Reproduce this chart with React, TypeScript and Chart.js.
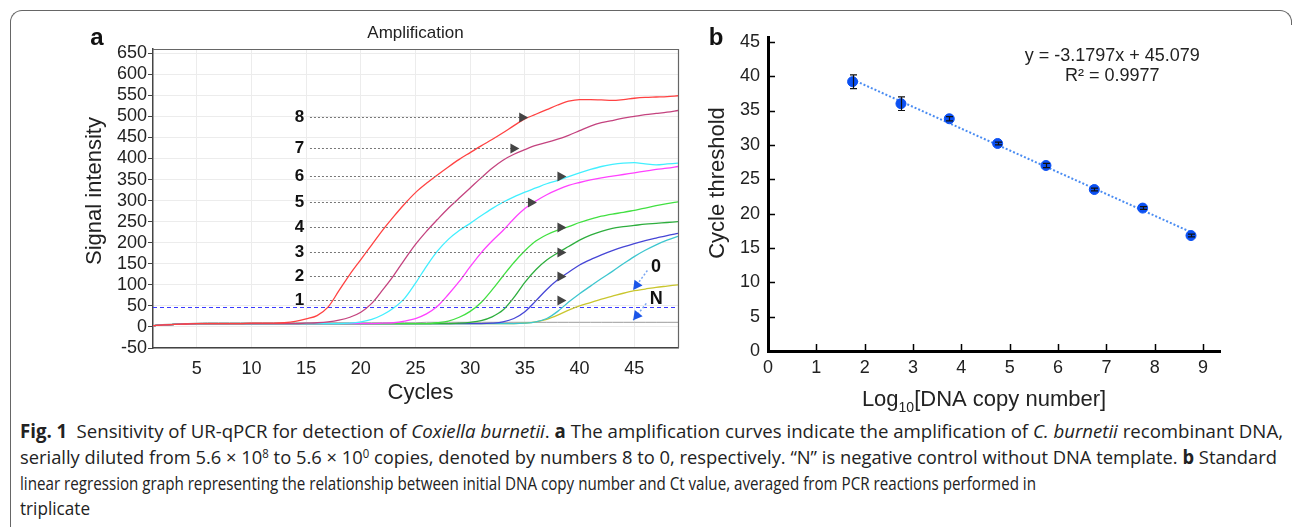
import React, { useEffect, useLayoutEffect, useRef } from "react";
import { Chart, registerables } from "chart.js";
Chart.register(...registerables);

const FONT = "'Liberation Sans', Arial, Helvetica, sans-serif";

// ---------- Panel a: amplification curves ----------
const cycles = [1,2,3,4,5,6,7,8,9,10,11,12,13,14,15,16,17,18,19,20,21,22,23,24,25,26,27,28,29,30,31,32,33,34,35,36,37,38,39,40,41,42,43,44,45,46,47,48,49];
const curve8 = [3,5,6,7,8, 8,8,8,8,9, 9,9,10,13,19, 27,47,86,125,160, 195,230,262,292,319, 341,361,380,398,414, 430,445,461,478,494, 505,516,527,536,540, 540,539,538,540,543, 545,546,547,549];
const curve7 = [3,5,6,7,8, 8,8,8,8,8, 8,8,8,8,9, 10,12,16,23,35, 56,88,122,160,196, 227,255,282,306,330, 354,377,396,410,421, 431,438,446,455,466, 477,485,490,496,500, 504,507,510,514];
const curve6 = [3,5,6,7,8, 8,8,8,8,8, 8,8,8,8,8, 8,8,8,9,12, 18,29,45,68,104, 144,180,208,229,246, 264,281,296,309,320, 330,340,348,357,366, 374,381,386,389,390, 387,385,387,389];
const curve5 = [3,5,6,7,8, 8,8,8,8,8, 8,8,8,8,8, 8,8,8,8,8, 8,9,10,14,20, 31,49,77,108,143, 176,204,229,257,281, 299,314,326,336,343, 349,354,358,362,366, 370,374,377,381];
const curve4 = [3,5,6,7,8, 8,8,8,8,8, 8,8,8,8,8, 8,8,8,8,8, 8,8,8,8,8, 8,10,14,23,37, 58,88,121,153,181, 204,219,230,238,248, 256,263,268,272,277, 282,288,293,297];
const curve3 = [3,5,6,7,8, 8,8,8,8,8, 8,8,8,8,8, 8,8,8,8,8, 8,8,8,8,8, 8,8,8,9,11, 15,24,40,70,106, 136,159,176,191,206, 218,227,234,238,241, 244,246,248,250];
const curve2 = [3,5,6,7,8, 8,8,8,8,8, 8,8,8,8,8, 8,8,8,8,8, 8,8,8,8,8, 8,8,8,8,8, 8,9,12,20,36, 62,89,112,130,147, 160,171,181,190,198, 205,211,217,222];
const curve1 = [3,5,6,7,8, 8,8,8,8,8, 8,8,8,8,8, 8,8,8,8,8, 8,8,8,8,8, 8,8,8,8,8, 8,8,8,8,9, 12,20,37,59,79, 97,115,132,150,167, 182,195,206,215];
const curve0 = [3,5,6,7,8, 8,8,8,8,8, 8,8,8,8,8, 8,8,8,8,8, 8,8,8,8,8, 8,8,8,8,8, 8,8,8,8,9, 12,18,28,40,50, 58,66,73,80,86, 90,94,97,100];
const curveN = [4,6,7,8,9, 10,10,10,10,10, 10,10,10,10,10, 10,10,10,10,10, 10,10,10,10,10, 11,11,11,11,11, 11,11,11,11,11, 11,11,11,11,11, 11,11,11,11,11, 11,11,11,11];

const seriesNames = ["8", "7", "6", "5", "4", "3", "2", "1", "0", "N"];
const seriesColors = ["#ff4242", "#c4437f", "#42efff", "#ff42ff", "#42e042", "#2eae3e", "#4646d6", "#3ec6cf", "#c9c62e", "#9b9b9b"];
const seriesValues = [curve8, curve7, curve6, curve5, curve4, curve3, curve2, curve1, curve0, curveN];

const xTicksA = [5, 10, 15, 20, 25, 30, 35, 40, 45];
const yTicksA = [-50, 0, 50, 100, 150, 200, 250, 300, 350, 400, 450, 500, 550, 600, 650];
const thresholdA = 47;

const pointerLabels = ["8", "7", "6", "5", "4", "3", "2", "1"];
const pointerLevels = [499, 425, 359, 297, 237, 178, 120, 64];
const pointerEnds = [35.3, 34.5, 38.8, 36.1, 38.8, 38.8, 38.8, 38.8];
const pointerLabelCycle = 14.4;
const pointerStartCycle = 15.35;

// "0" and "N" callouts
const calloutLabels = ["0", "N"];
const calloutText = [[47.0, 142], [47.0, 66]];
const calloutFrom = [[46.2, 134], [46.1, 56]];
const calloutTo = [[44.9, 88], [44.9, 16]];

// ---------- Panel b: standard curve ----------
const log10Copies = [1.75, 2.75, 3.75, 4.75, 5.75, 6.75, 7.75, 8.75];
const ctMeans = [39.2, 36.0, 33.8, 30.2, 27.0, 23.5, 20.8, 16.8];
const ctErrors = [1.0, 1.0, 0.3, 0.2, 0.3, 0.2, 0.2, 0.2];
const trendX = [1.75, 8.75];
const trendY = [39.5, 17.3];
const xTicksB = [0, 1, 2, 3, 4, 5, 6, 7, 8, 9];
const yTicksB = [0, 5, 10, 15, 20, 25, 30, 35, 40, 45];
const equationLines = ["y = -3.1797x + 45.079", "R\u00b2 = 0.9977"];

function drawRotated(ctx: CanvasRenderingContext2D, text: string, x: number, y: number) {
  ctx.save();
  ctx.translate(x, y);
  ctx.rotate(-Math.PI / 2);
  ctx.textAlign = "center";
  ctx.textBaseline = "middle";
  ctx.fillText(text, 0, 0);
  ctx.restore();
}

function drawHead(ctx: CanvasRenderingContext2D, fx: number, fy: number, tx: number, ty: number, len: number, half: number) {
  const a = Math.atan2(ty - fy, tx - fx);
  ctx.beginPath();
  ctx.moveTo(tx, ty);
  ctx.lineTo(tx - len * Math.cos(a) + half * Math.sin(a), ty - len * Math.sin(a) - half * Math.cos(a));
  ctx.lineTo(tx - len * Math.cos(a) - half * Math.sin(a), ty - len * Math.sin(a) + half * Math.cos(a));
  ctx.closePath();
  ctx.fill();
}

function PanelA() {
  const ref = useRef<HTMLCanvasElement>(null);
  useEffect(() => {
    if (!ref.current) return;
    const datasets = seriesValues.map((vals, si) => ({
      label: seriesNames[si],
      data: cycles.map((c, i) => ({ x: c, y: vals[i] })),
      borderColor: seriesColors[si],
      borderWidth: si === 9 ? 1 : 1.3,
      pointRadius: 0,
      cubicInterpolationMode: "monotone" as const,
      fill: false,
    }));
    const plugin = {
      id: "panelA",
      beforeDatasetsDraw(chart: any) {
        const { ctx, chartArea: ca, scales } = chart;
        const y = scales.y.getPixelForValue(thresholdA);
        ctx.save();
        ctx.strokeStyle = "#3a3aff";
        ctx.lineWidth = 1;
        ctx.setLineDash([4, 3]);
        ctx.beginPath();
        ctx.moveTo(ca.left, Math.round(y) + 0.5);
        ctx.lineTo(ca.right, Math.round(y) + 0.5);
        ctx.stroke();
        ctx.restore();
      },
      afterDraw(chart: any) {
        const { ctx, chartArea: ca, scales } = chart;
        const xs = scales.x, ys = scales.y;
        ctx.save();
        ctx.strokeStyle = "#666";
        ctx.lineWidth = 1.2;
        ctx.beginPath();
        ctx.moveTo(ca.left, ca.top + 0.5);
        ctx.lineTo(ca.right + 0.5, ca.top + 0.5);
        ctx.lineTo(ca.right + 0.5, ca.bottom);
        ctx.stroke();
        for (let i = 0; i < pointerLabels.length; i++) {
          const py = Math.round(ys.getPixelForValue(pointerLevels[i])) + 0.5;
          const sx = xs.getPixelForValue(pointerStartCycle);
          const ex = xs.getPixelForValue(pointerEnds[i]);
          ctx.strokeStyle = "#777";
          ctx.lineWidth = 1;
          ctx.setLineDash([2, 2]);
          ctx.beginPath();
          ctx.moveTo(sx, py);
          ctx.lineTo(ex - 8, py);
          ctx.stroke();
          ctx.setLineDash([]);
          ctx.fillStyle = "#444";
          ctx.beginPath();
          ctx.moveTo(ex, py);
          ctx.lineTo(ex - 9, py - 5);
          ctx.lineTo(ex - 9, py + 5);
          ctx.closePath();
          ctx.fill();
          ctx.fillStyle = "#111";
          ctx.font = `bold 17px ${FONT}`;
          ctx.textAlign = "center";
          ctx.textBaseline = "middle";
          ctx.fillText(pointerLabels[i], xs.getPixelForValue(pointerLabelCycle), py);
        }
        for (let i = 0; i < calloutLabels.length; i++) {
          const fx = xs.getPixelForValue(calloutFrom[i][0]);
          const fy = ys.getPixelForValue(calloutFrom[i][1]);
          const tx = xs.getPixelForValue(calloutTo[i][0]);
          const ty = ys.getPixelForValue(calloutTo[i][1]);
          ctx.strokeStyle = "#7aa6f2";
          ctx.lineWidth = 1.5;
          ctx.setLineDash([2, 2]);
          ctx.beginPath();
          ctx.moveTo(fx, fy);
          ctx.lineTo(tx, ty);
          ctx.stroke();
          ctx.setLineDash([]);
          ctx.fillStyle = "#1a55e8";
          drawHead(ctx, fx, fy, tx, ty, 9, 5);
          ctx.fillStyle = "#111";
          ctx.font = `bold 18px ${FONT}`;
          ctx.textAlign = "center";
          ctx.textBaseline = "middle";
          ctx.fillText(calloutLabels[i], xs.getPixelForValue(calloutText[i][0]), ys.getPixelForValue(calloutText[i][1]));
        }
        ctx.fillStyle = "#111";
        ctx.font = `bold 24px ${FONT}`;
        ctx.textAlign = "center";
        ctx.textBaseline = "middle";
        ctx.fillText("a", 37, 23);
        ctx.fillStyle = "#222";
        ctx.font = `17px ${FONT}`;
        ctx.fillText("Amplification", (ca.left + ca.right) / 2, ca.top - 16);
        ctx.font = `22px ${FONT}`;
        ctx.fillText("Cycles", (ca.left + ca.right) / 2 + 5, 378);
        drawRotated(ctx, "Signal intensity", 35, 176);
        ctx.restore();
      },
    };
    const chart = new Chart(ref.current, {
      type: "line",
      data: { datasets },
      options: {
        animation: false,
        responsive: false,
        events: [],
        layout: { padding: { top: 34, right: 22, left: 0, bottom: 0 } },
        plugins: { legend: { display: false }, tooltip: { enabled: false } },
        scales: {
          x: {
            type: "linear",
            min: 1,
            max: 49,
            afterBuildTicks: (s: any) => { s.ticks = xTicksA.map((v) => ({ value: v })); },
            afterFit: (s: any) => { s.height = 67; },
            grid: { color: "#ececec", drawTicks: false },
            border: { display: true, color: "#444", width: 1.5 },
            ticks: { font: { size: 18, family: FONT }, color: "#222", padding: 10, maxRotation: 0, autoSkip: false },
          },
          y: {
            type: "linear",
            min: -50,
            max: 660,
            afterBuildTicks: (s: any) => { s.ticks = yTicksA.map((v) => ({ value: v })); },
            afterFit: (s: any) => { s.width = 93; },
            grid: { color: "#ececec", drawTicks: true, tickLength: 5, tickColor: "#444" },
            border: { display: true, color: "#444", width: 1.5 },
            ticks: { font: { size: 18, family: FONT }, color: "#222", padding: 1, autoSkip: false },
          },
        },
      } as any,
      plugins: [plugin],
    });
    return () => chart.destroy();
  }, []);
  return <canvas ref={ref} width={640} height={400} style={{ position: "absolute", left: 60, top: 15 }} />;
}

function PanelB() {
  const ref = useRef<HTMLCanvasElement>(null);
  useEffect(() => {
    if (!ref.current) return;
    const plugin = {
      id: "panelB",
      afterDatasetsDraw(chart: any) {
        const { ctx, scales } = chart;
        const xs = scales.x, ys = scales.y;
        ctx.save();
        ctx.strokeStyle = "#111";
        ctx.lineWidth = 1.2;
        for (let i = 0; i < log10Copies.length; i++) {
          const px = Math.round(xs.getPixelForValue(log10Copies[i])) + 0.5;
          const top = ys.getPixelForValue(ctMeans[i] + ctErrors[i]);
          const bot = ys.getPixelForValue(ctMeans[i] - ctErrors[i]);
          ctx.beginPath();
          ctx.moveTo(px, top); ctx.lineTo(px, bot);
          ctx.moveTo(px - 3.5, top); ctx.lineTo(px + 3.5, top);
          ctx.moveTo(px - 3.5, bot); ctx.lineTo(px + 3.5, bot);
          ctx.stroke();
        }
        ctx.restore();
      },
      afterDraw(chart: any) {
        const { ctx, chartArea: ca, scales } = chart;
        const xs = scales.x, ys = scales.y;
        ctx.save();
        ctx.strokeStyle = "#000";
        ctx.lineWidth = 1.5;
        ctx.beginPath();
        for (const v of xTicksB) {
          if (v === 0) continue;
          const px = Math.round(xs.getPixelForValue(v)) + 0.5;
          ctx.moveTo(px, ca.bottom); ctx.lineTo(px, ca.bottom - 7);
        }
        for (const v of yTicksB) {
          if (v === 0) continue;
          const py = Math.round(ys.getPixelForValue(v)) + 0.5;
          ctx.moveTo(ca.left, py); ctx.lineTo(ca.left + 7, py);
        }
        ctx.stroke();
        ctx.fillStyle = "#222";
        ctx.font = `18px ${FONT}`;
        ctx.textAlign = "center";
        ctx.textBaseline = "middle";
        ctx.fillText(equationLines[0], xs.getPixelForValue(7.12), ys.getPixelForValue(42.9));
        ctx.fillText(equationLines[1], xs.getPixelForValue(7.12), ys.getPixelForValue(40.0));
        ctx.fillStyle = "#111";
        ctx.font = `bold 24px ${FONT}`;
        ctx.fillText("b", 16, 23);
        ctx.fillStyle = "#222";
        ctx.font = `22px ${FONT}`;
        drawRotated(ctx, "Cycle threshold", 18, 168);
        const parts = [["Log", 22, 0], ["10", 14, 6], ["[DNA copy number]", 22, 0]] as [string, number, number][];
        let total = 0;
        for (const [t, sz] of parts) { ctx.font = `${sz}px ${FONT}`; total += ctx.measureText(t).width; }
        let x = (ca.left + ca.right) / 2 - 10 - total / 2;
        ctx.textAlign = "left";
        ctx.textBaseline = "alphabetic";
        for (const [t, sz, dy] of parts) {
          ctx.font = `${sz}px ${FONT}`;
          ctx.fillText(t, x, 391 + dy);
          x += ctx.measureText(t).width;
        }
        ctx.restore();
      },
    };
    const chart = new Chart(ref.current, {
      type: "scatter",
      data: {
        datasets: [
          {
            label: "Ct",
            data: log10Copies.map((x, i) => ({ x, y: ctMeans[i] })),
            backgroundColor: "#0b50f2",
            borderColor: "#0b50f2",
            pointRadius: 5,
            showLine: false,
          },
          {
            label: "trend",
            type: "line",
            data: trendX.map((x, i) => ({ x, y: trendY[i] })),
            borderColor: "#4a8cf2",
            borderWidth: 2,
            borderDash: [2, 2],
            pointRadius: 0,
            fill: false,
          },
        ],
      },
      options: {
        animation: false,
        responsive: false,
        events: [],
        layout: { padding: { top: 22, right: 70, left: 0, bottom: 0 } },
        plugins: { legend: { display: false }, tooltip: { enabled: false } },
        scales: {
          x: {
            type: "linear",
            min: 0,
            max: 9.35,
            afterBuildTicks: (s: any) => { s.ticks = xTicksB.map((v) => ({ value: v })); },
            afterFit: (s: any) => { s.height = 64; },
            grid: { display: false, drawTicks: false },
            border: { display: true, color: "#000", width: 3 },
            ticks: { font: { size: 18, family: FONT }, color: "#222", padding: 6, maxRotation: 0, autoSkip: false },
          },
          y: {
            type: "linear",
            min: 0,
            max: 45.7,
            afterBuildTicks: (s: any) => { s.ticks = yTicksB.map((v) => ({ value: v })); },
            afterFit: (s: any) => { s.width = 68; },
            grid: { display: false, drawTicks: false },
            border: { display: true, color: "#000", width: 3 },
            ticks: { font: { size: 18, family: FONT }, color: "#222", padding: 8, autoSkip: false },
          },
        },
      } as any,
      plugins: [plugin],
    });
    return () => chart.destroy();
  }, []);
  return <canvas ref={ref} width={590} height={400} style={{ position: "absolute", left: 700, top: 15 }} />;
}

const captionWidths = [1263, 1257, 1016, 70];

function Caption() {
  const spans = useRef<(HTMLSpanElement | null)[]>([]);
  useLayoutEffect(() => {
    spans.current.forEach((s, i) => {
      if (!s) return;
      const w = s.getBoundingClientRect().width;
      if (w > 0) s.style.transform = `scaleX(${captionWidths[i] / w})`;
    });
  }, []);
  const lineStyle: React.CSSProperties = { position: "absolute", left: 0, whiteSpace: "nowrap", lineHeight: "22px" };
  const spanStyle: React.CSSProperties = { display: "inline-block", transformOrigin: "0 50%" };
  const sup: React.CSSProperties = { fontSize: "0.62em", verticalAlign: "0.55em", lineHeight: 0 };
  const setRef = (i: number) => (el: HTMLSpanElement | null) => { spans.current[i] = el; };
  return (
    <div
      style={{
        position: "absolute", left: 20, top: 420, width: 1300, height: 100,
        fontFamily: "'Open Sans', 'Noto Sans', sans-serif",
        fontSize: 19, color: "#222",
      }}
    >
      <div style={{ ...lineStyle, top: 0 }}>
        <span ref={setRef(0)} style={spanStyle}>
          <b>Fig. 1</b>{"\u2002"}Sensitivity of UR-qPCR for detection of <i>Coxiella burnetii</i>. <b>a</b> The amplification curves indicate the amplification of <i>C. burnetii</i> recombinant DNA,
        </span>
      </div>
      <div style={{ ...lineStyle, top: 26 }}>
        <span ref={setRef(1)} style={spanStyle}>
          serially diluted from 5.6 × 10<span style={sup}>8</span> to 5.6 × 10<span style={sup}>0</span> copies, denoted by numbers 8 to 0, respectively. “N” is negative control without DNA template. <b>b</b> Standard
        </span>
      </div>
      <div style={{ ...lineStyle, top: 52 }}>
        <span ref={setRef(2)} style={spanStyle}>
          linear regression graph representing the relationship between initial DNA copy number and Ct value, averaged from PCR reactions performed in
        </span>
      </div>
      <div style={{ ...lineStyle, top: 77 }}>
        <span ref={setRef(3)} style={spanStyle}>triplicate</span>
      </div>
    </div>
  );
}

export default function App() {
  return (
    <div style={{ position: "absolute", left: 0, top: 0, width: 1295, height: 527, background: "#fff", overflow: "hidden" }}>
      <div style={{ position: "absolute", left: 10, top: 10, width: 1268, height: 540, borderTop: "1px solid #666", borderLeft: "1px solid #666", borderTopLeftRadius: 12 }} />
      <div style={{ position: "absolute", left: 1268, top: 10, width: 23, height: 14, borderTop: "1px solid #666", borderRight: "1px solid #666", borderTopRightRadius: 12 }} />
      <PanelA />
      <PanelB />
      <Caption />
    </div>
  );
}
